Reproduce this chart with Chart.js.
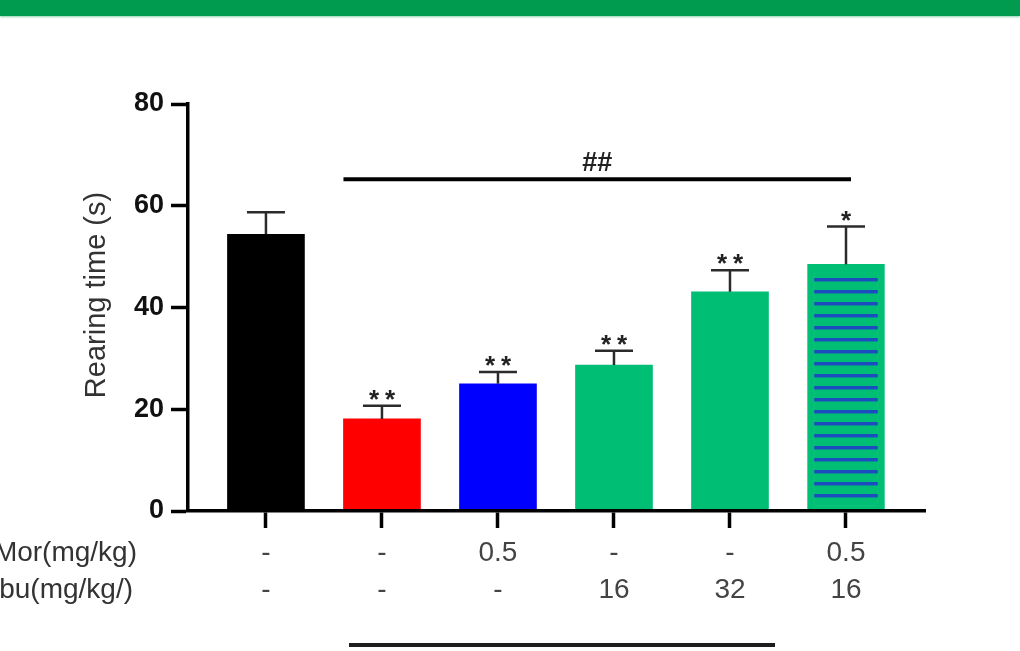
<!DOCTYPE html>
<html>
<head>
<meta charset="utf-8">
<script src="https://cdn.jsdelivr.net/npm/chart.js@4.4.0/dist/chart.umd.min.js"></script>
<style>
  html, body { margin: 0; padding: 0; background: #fff; overflow: hidden; }
  #wrap { position: relative; width: 1020px; height: 651px; }
  canvas { position: absolute; left: 0; top: 0; }
  #band { position: absolute; left: 0; top: 0; width: 1020px; height: 16px; background: #009b4e; box-shadow: 0 1px 2px rgba(0, 155, 78, 0.45); }
  #rule { position: absolute; left: 349px; top: 643px; width: 426px; height: 4px; background: #1e1e1e; }
</style>
</head>
<body>
<div id="wrap">
  <canvas id="chart" width="1020" height="651"></canvas>
  <div id="band"></div>
  <div id="rule"></div>
</div>
<script>
// groups along the x axis, with the doses given to each
const groups = [0, 1, 2, 3, 4, 5];
const morDose = ['-', '-', '0.5', '-', '-', '0.5'];
const ibuDose = ['-', '-', '-', '16', '32', '16'];
const rowNames = ['Mor(mg/kg)', 'Ibu(mg/kg/)'];

// mean rearing time and SEM per group
const rearing = [54.4, 18.1, 25.0, 28.7, 43.1, 48.5];
const rearingSem = [4.3, 2.6, 2.3, 2.8, 4.2, 7.4];
const stars = ['', '**', '**', '**', '**', '*'];
const yTicks = [0, 20, 40, 60, 80];

// ## comparison spanning groups 1..5
const bracket = { from: 1, to: 5, y: 65.2, text: '##' };

const FONT = '"Liberation Sans", Arial, Helvetica, sans-serif';
const GREEN = '#00be74';
const BAR_W = 77;

function stripes() {
  const c = document.createElement('canvas');
  c.width = 12; c.height = 12;
  const g = c.getContext('2d');
  g.fillStyle = GREEN;
  g.fillRect(0, 0, 12, 12);
  g.fillStyle = '#1b4cc0';
  g.fillRect(0, 2, 12, 3);
  g.fillStyle = 'rgba(27, 76, 192, 0.45)';
  g.fillRect(0, 5, 12, 1);
  return g.createPattern(c, 'repeat');
}

const annotate = {
  id: 'annotate',
  afterDatasetsDraw(chart) {
    const { ctx, scales: { x, y } } = chart;
    const bars = chart.getDatasetMeta(0).data;
    ctx.save();
    ctx.strokeStyle = '#2b2b2b';
    ctx.fillStyle = '#222';
    ctx.lineWidth = 2.5;
    ctx.font = 'bold 26px ' + FONT;
    ctx.textAlign = 'center';
    ctx.textBaseline = 'alphabetic';
    bars.forEach((bar, i) => {
      const top = y.getPixelForValue(rearing[i] + rearingSem[i]);
      ctx.beginPath();
      ctx.moveTo(bar.x, bar.y);
      ctx.lineTo(bar.x, top);
      ctx.moveTo(bar.x - 19, top);
      ctx.lineTo(bar.x + 19, top);
      ctx.stroke();
      const s = stars[i];
      for (let k = 0; k < s.length; k++) {
        ctx.fillText('*', bar.x + (k - (s.length - 1) / 2) * 16, top + 2);
      }
    });

    // significance bracket
    const by = y.getPixelForValue(bracket.y);
    const x0 = x.getPixelForValue(bracket.from) - BAR_W / 2;
    const x1 = x.getPixelForValue(bracket.to) + 5;
    ctx.strokeStyle = '#000';
    ctx.lineWidth = 4;
    ctx.beginPath();
    ctx.moveTo(x0, by);
    ctx.lineTo(x1, by);
    ctx.stroke();
    ctx.fillStyle = '#222';
    ctx.font = 'bold 27px ' + FONT;
    ctx.fillText(bracket.text, (x0 + x1) / 2, by - 8);
    ctx.restore();
  },
  afterDraw(chart) {
    const { ctx, scales: { x } } = chart;
    ctx.save();
    // y axis title
    ctx.fillStyle = '#333';
    ctx.font = '29px ' + FONT;
    ctx.textAlign = 'center';
    ctx.textBaseline = 'middle';
    ctx.translate(97, 295);
    ctx.rotate(-Math.PI / 2);
    ctx.fillText('Rearing time (s)', 0, 0);
    ctx.restore();

    // dose row headings, level with the tick label rows
    ctx.save();
    ctx.fillStyle = '#333';
    ctx.font = '28px ' + FONT;
    ctx.textAlign = 'right';
    ctx.textBaseline = 'middle';
    const lh = 37;
    const y0 = x.top + 17 + 7 + lh / 2;
    const rightEdge = [137, 133];
    rowNames.forEach((name, r) => ctx.fillText(name, rightEdge[r], y0 + r * lh));
    ctx.restore();
  }
};

new Chart(document.getElementById('chart'), {
  type: 'bar',
  data: {
    datasets: [{
      data: groups.map((g, i) => ({ x: g, y: rearing[i] })),
      backgroundColor: ['#000000', '#ff0000', '#0000ff', GREEN, GREEN, stripes()],
      borderColor: GREEN,
      borderWidth: [0, 0, 0, 0, 0, { top: 8, left: 7, right: 7, bottom: 5 }],
      borderSkipped: false,
      barThickness: BAR_W
    }]
  },
  options: {
    responsive: false,
    animation: false,
    devicePixelRatio: 1,
    layout: { padding: { top: 104, right: 95, bottom: 0, left: 0 } },
    plugins: { legend: { display: false }, tooltip: { enabled: false } },
    scales: {
      x: {
        type: 'linear',
        min: -0.672,
        max: 5.681,
        offset: false,
        afterBuildTicks: s => { s.ticks = groups.map(v => ({ value: v })); },
        afterFit: s => { s.height = 140; },
        grid: { drawOnChartArea: false, offset: false, tickLength: 17, tickWidth: 3.5, tickColor: '#000' },
        border: { color: '#000', width: 3.5, z: 1 },
        ticks: {
          autoSkip: false,
          maxRotation: 0,
          padding: 7,
          color: '#444',
          font: { family: FONT, size: 28, lineHeight: 1.32 },
          callback: v => [morDose[v], ibuDose[v]]
        }
      },
      y: {
        min: 0,
        max: 80,
        afterBuildTicks: s => { s.ticks = yTicks.map(v => ({ value: v })); },
        afterFit: s => { s.width = 188; },
        grid: { drawOnChartArea: false, tickLength: 17, tickWidth: 3.5, tickColor: '#000' },
        border: { color: '#000', width: 3.5 },
        ticks: { padding: 7, color: '#111', font: { family: FONT, size: 27, weight: 'bold' } }
      }
    }
  },
  plugins: [annotate]
});
</script>
</body>
</html>
